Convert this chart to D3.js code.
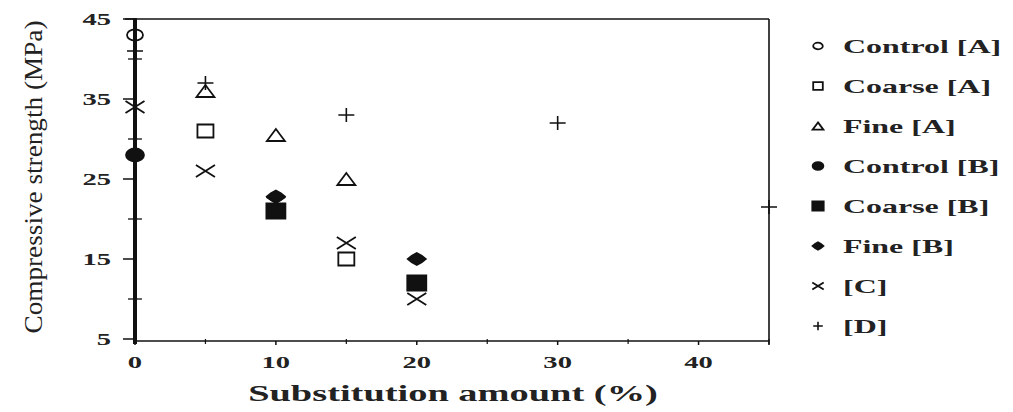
<!DOCTYPE html>
<html>
<head>
<meta charset="utf-8">
<script src="https://cdn.jsdelivr.net/npm/d3@7"></script>
<style>
  html, body { margin: 0; padding: 0; background: #fff; }
  svg { display: block; }
  text { font-family: "Liberation Serif", "Times New Roman", serif; fill: #222; }
</style>
</head>
<body>
<svg id="chart" width="1013" height="412"></svg>
<script>
// Compressive strength versus substitution amount
const seriesNames = ["Control [A]", "Coarse [A]", "Fine [A]", "Control [B]", "Coarse [B]", "Fine [B]", "[C]", "[D]"];
const seriesShapes = ["circle", "square", "triangle", "dot", "block", "diamond", "x", "plus"];

const controlA_x = [0];             const controlA_y = [43];
const coarseA_x  = [5, 15];         const coarseA_y  = [31, 15];
const fineA_x    = [5, 10, 15];     const fineA_y    = [36, 30.5, 25];
const controlB_x = [0];             const controlB_y = [28];
const coarseB_x  = [10, 20];        const coarseB_y  = [21, 12];
const fineB_x    = [10, 20];        const fineB_y    = [22.8, 15];
const seriesC_x  = [0, 5, 10, 15, 20];  const seriesC_y = [34, 26, 22, 17, 10];
const seriesD_x  = [0, 5, 15, 30, 45];  const seriesD_y = [41, 37, 33, 32, 21.5];

const xMajorTicks = [0, 10, 20, 30, 40];
const xMinorTicks = [5, 15, 25, 35, 45];
const yMajorTicks = [5, 15, 25, 35, 45];
const yMinorTicks = [10, 20, 30, 40];

const xs = [controlA_x, coarseA_x, fineA_x, controlB_x, coarseB_x, fineB_x, seriesC_x, seriesD_x];
const ys = [controlA_y, coarseA_y, fineA_y, controlB_y, coarseB_y, fineB_y, seriesC_y, seriesD_y];

const svg = d3.select("#chart");
const X0 = 135, X1 = 769, Y0 = 339, Y1 = 19;
const x = d3.scaleLinear().domain([0, 45]).range([X0, X1]);
const y = d3.scaleLinear().domain([5, 45]).range([Y0, Y1]);
const SX = 1.68; // wide-set lettering

function wide(sel, factor) {
  sel.each(function () {
    const len = this.getComputedTextLength();
    d3.select(this).attr("textLength", len * (factor || SX)).attr("lengthAdjust", "spacingAndGlyphs");
  });
  return sel;
}

// marker geometry in unit space, stretched by w/h
function shapePath(kind) {
  switch (kind) {
    case "circle": case "dot":
      return "M-1,0A1,1 0 1,0 1,0A1,1 0 1,0 -1,0Z";
    case "square": case "block":
      return "M-1,-1H1V1H-1Z";
    case "triangle":
      return "M0,-1L1,1H-1Z";
    case "diamond":
      return "M0,-1L0.55,-0.55L1,0L0.55,0.55L0,1L-0.55,0.55L-1,0L-0.55,-0.55Z";
    case "x":
      return "M-1,-1L1,1M-1,1L1,-1";
    case "plus":
      return "M-1,0H1M0,-1V1";
  }
}
const shapeSize = {
  circle: [8, 5.5], square: [8, 6.5], triangle: [9, 6], dot: [9, 6.5],
  block: [9.5, 7.5], diamond: [9, 6], x: [9.5, 6], plus: [8, 7]
};
const filled = { dot: true, block: true, diamond: true };

function drawMarker(g, kind, cx, cy, scale) {
  const [w, h] = shapeSize[kind];
  g.append("path")
    .attr("d", shapePath(kind))
    .attr("transform", `translate(${cx},${cy}) scale(${w * scale},${h * scale})`)
    .attr("vector-effect", "non-scaling-stroke")
    .attr("fill", filled[kind] ? "#111" : "none")
    .attr("stroke", "#111")
    .attr("stroke-width", kind === "plus" ? 1.6 : 1.8);
}

// frame: top and right borders, bottom axis
const frame = svg.append("g").attr("stroke", "#111").attr("fill", "none");
frame.append("line").attr("x1", X0 - 10).attr("x2", X1).attr("y1", Y1).attr("y2", Y1).attr("stroke-width", 1.6);
frame.append("line").attr("x1", X1).attr("x2", X1).attr("y1", Y1).attr("y2", Y0 + 6).attr("stroke-width", 1.6);
frame.append("line").attr("x1", X0).attr("x2", X1).attr("y1", Y0 + 2).attr("y2", Y0 + 2).attr("stroke-width", 1.6);

// x ticks
const xTickG = svg.append("g").attr("stroke", "#111");
xTickG.selectAll("line.maj").data(xMajorTicks).join("line")
  .attr("x1", d => x(d)).attr("x2", d => x(d)).attr("y1", Y0 + 2).attr("y2", Y0 + 6).attr("stroke-width", 1.5);
xTickG.selectAll("line.min").data(xMinorTicks).join("line")
  .attr("x1", d => x(d)).attr("x2", d => x(d)).attr("y1", Y0).attr("y2", Y0 + 5).attr("stroke-width", 1.2);

// y ticks
const yTickG = svg.append("g").attr("stroke", "#111");
yTickG.selectAll("line.maj").data(yMajorTicks).join("line")
  .attr("x1", X0 - 12).attr("x2", X0).attr("y1", d => y(d)).attr("y2", d => y(d)).attr("stroke-width", 1.5);
yTickG.selectAll("line.min").data(yMinorTicks).join("line")
  .attr("x1", X0 - 7).attr("x2", X0 + 7).attr("y1", d => y(d)).attr("y2", d => y(d)).attr("stroke-width", 1.3);

// thick y axis line
svg.append("line").attr("x1", X0).attr("x2", X0).attr("y1", Y1 - 1).attr("y2", Y0 + 5)
  .attr("stroke", "#111").attr("stroke-width", 4);

// tick labels
wide(svg.append("g").selectAll("text").data(yMajorTicks).join("text")
  .attr("x", 111).attr("y", d => y(d)).attr("dy", "0.35em")
  .attr("text-anchor", "end").attr("font-size", 17).attr("font-weight", "bold")
  .text(d => d));
wide(svg.append("g").selectAll("text").data(xMajorTicks).join("text")
  .attr("x", d => x(d)).attr("y", 362).attr("dy", "0.35em")
  .attr("text-anchor", "middle").attr("font-size", 17).attr("font-weight", "bold")
  .text(d => d));

// axis titles
wide(svg.append("text").attr("x", 453).attr("y", 393).attr("dy", "0.35em")
  .attr("text-anchor", "middle").attr("font-size", 24).attr("font-weight", "bold")
  .text("Substitution amount (%)"), 1.6);
svg.append("text")
  .attr("transform", "translate(33,177) rotate(-90)")
  .attr("dy", "0.35em").attr("text-anchor", "middle").attr("font-size", 25)
  .attr("textLength", 313).attr("lengthAdjust", "spacingAndGlyphs")
  .text("Compressive strength (MPa)");

// data markers
const marks = svg.append("g");
seriesNames.forEach((name, i) => {
  xs[i].forEach((xv, j) => drawMarker(marks, seriesShapes[i], x(xv), y(ys[i][j]), 1));
});

// legend
const legend = svg.append("g");
const legendY = d3.scaleLinear().domain([0, 7]).range([46, 326]);
seriesNames.forEach((name, i) => {
  const cy = legendY(i);
  drawMarker(legend, seriesShapes[i], 818, cy, 0.6);
  wide(legend.append("text").attr("x", 843).attr("y", cy).attr("dy", "0.35em")
    .attr("font-size", 19).attr("font-weight", "bold").text(name));
});
</script>
</body>
</html>
